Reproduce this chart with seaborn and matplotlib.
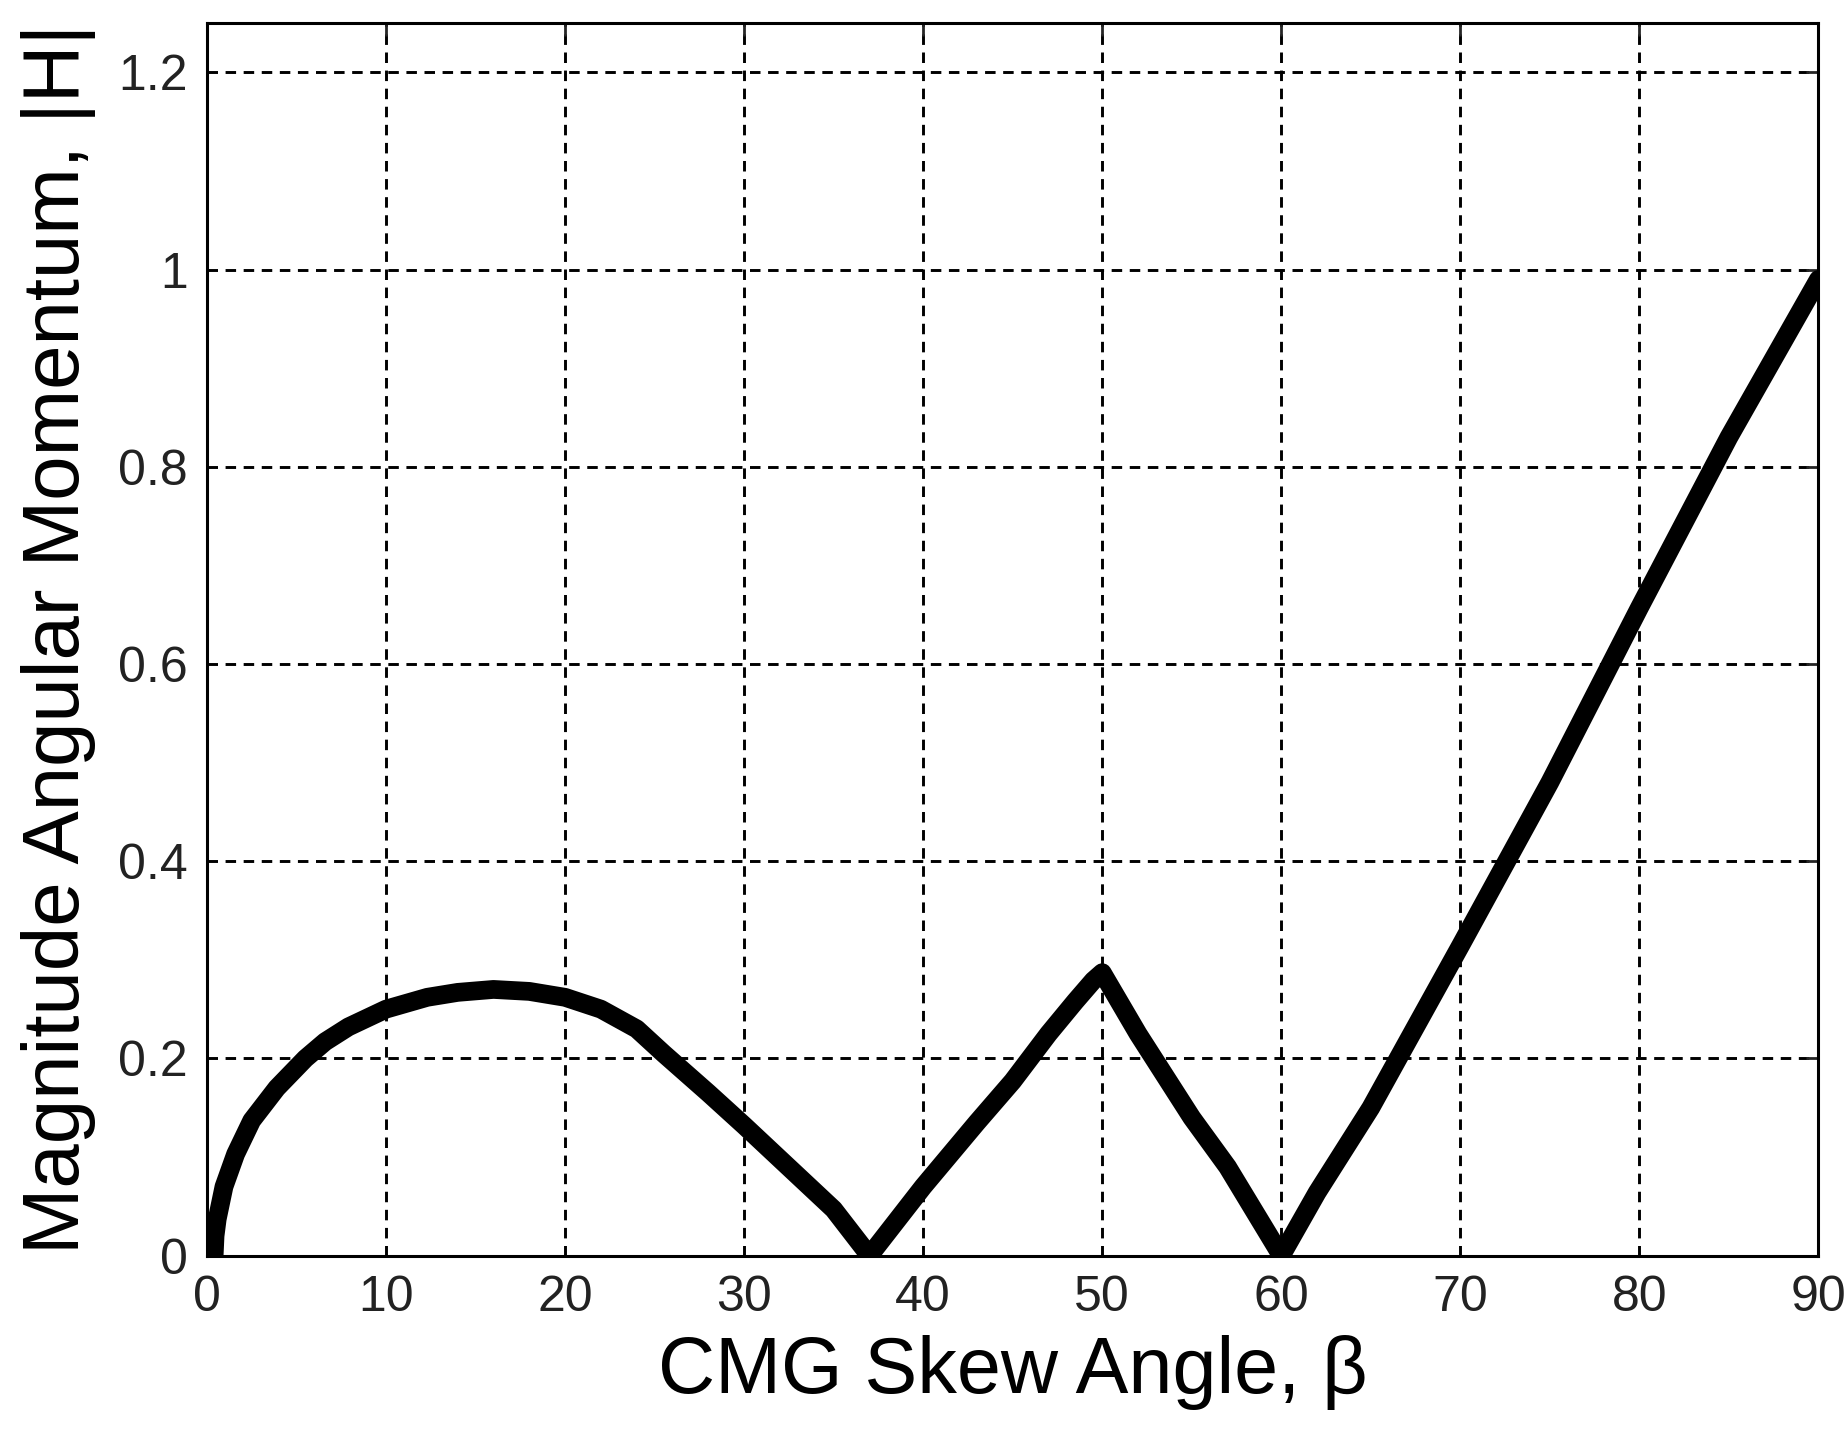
import numpy as np
import pandas as pd
import matplotlib
matplotlib.use("Agg")
import matplotlib.pyplot as plt
import seaborn as sns

# skew angle (deg) and |H|
skew_angle = [0.4, 0.45, 0.57, 0.95, 1.6, 2.5, 3.9, 5.5, 6.6, 7.9, 10, 12.3, 14, 16,
              18, 20, 22, 24, 25.5, 28, 30, 32, 35, 37,
              40, 43, 45, 47, 48.5, 49.5, 50,
              52, 55, 57, 60,
              62, 65, 70, 75, 80, 85, 90]
h_mag = [0.0, 0.02, 0.037, 0.07, 0.103, 0.137, 0.17, 0.20, 0.217, 0.232, 0.250, 0.262, 0.267, 0.270,
         0.268, 0.262, 0.250, 0.230, 0.205, 0.165, 0.132, 0.098, 0.047, 0.0,
         0.07, 0.135, 0.177, 0.225, 0.258, 0.279, 0.287,
         0.225, 0.14, 0.09, 0.0,
         0.064, 0.15, 0.314, 0.48, 0.657, 0.83, 0.99]

x_ticks = [0, 10, 20, 30, 40, 50, 60, 70, 80, 90]
y_ticks = [0, 0.2, 0.4, 0.6, 0.8, 1.0, 1.2]
y_tick_labels = ["0", "0.2", "0.4", "0.6", "0.8", "1", "1.2"]

df = pd.DataFrame({"beta": skew_angle, "H": h_mag})

sns.set_theme(style="white")
plt.rcParams["font.family"] = ["Liberation Sans", "DejaVu Sans"]

fig = plt.figure(figsize=(18.48, 14.4), dpi=100)
ax = fig.add_axes([0.112, 0.128, 0.872, 0.856])

sns.lineplot(data=df, x="beta", y="H", sort=False, estimator=None,
             color="black", linewidth=13.5, solid_capstyle="round",
             solid_joinstyle="round", ax=ax)

ax.set_xlim(0, 90)
ax.set_ylim(0, 1.25)
ax.set_xticks(x_ticks)
ax.set_yticks(y_ticks)
ax.set_yticklabels(y_tick_labels)

ax.grid(True, color="black", linestyle=(0, (3.6, 2.6)), linewidth=2.1)
ax.set_axisbelow(True)

for s in ax.spines.values():
    s.set_visible(True)
    s.set_color("black")
    s.set_linewidth(2.2)

ax.tick_params(direction="in", length=9, width=2, top=True, right=True,
               labelsize=36, labelcolor="#222222", pad=14)

ax.set_xlabel("CMG Skew Angle, β", fontsize=57, color="black", labelpad=10)
ax.set_ylabel("Magnitude Angular Momentum, |H|", fontsize=57.5, color="black", labelpad=16)

fig.savefig("out.png", dpi=100, facecolor="white")
